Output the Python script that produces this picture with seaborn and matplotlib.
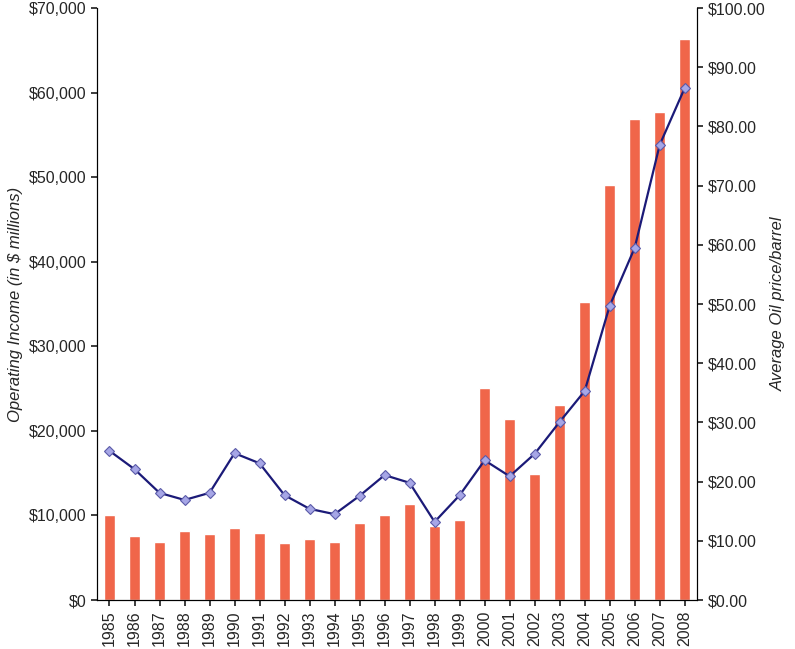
import matplotlib.pyplot as plt
import matplotlib.ticker as mticker
import numpy as np
import pandas as pd
import seaborn as sns

years = list(range(1985, 2009))
operating_income = [10000, 7600, 6900, 8200, 7800, 8500, 7900, 6700, 7200, 6900,
                    9100, 10000, 11400, 8700, 9500, 25100, 21400, 14900, 23100, 35200,
                    49100, 56900, 57700, 66300]
oil_price = [25.2, 22.1, 18.1, 16.9, 18.1, 24.8, 23.1, 17.7, 15.4, 14.5,
             17.6, 21.1, 19.8, 13.2, 17.7, 23.6, 20.9, 24.7, 30.1, 35.3,
             49.7, 59.5, 76.9, 86.5]

df = pd.DataFrame({"year": [str(y) for y in years],
                   "income": operating_income, "oil": oil_price})

sns.set_theme(style="white")
plt.rcParams['font.family'] = ['Liberation Sans', 'DejaVu Sans']

fig = plt.figure(figsize=(7.95, 6.49), dpi=100)
ax = fig.add_axes([0.122, 0.0755, 0.755, 0.912])

sns.barplot(data=df, x="year", y="income", color="#F0664A", saturation=1,
            width=0.42, ax=ax)
ax.set_ylim(0, 70000)
ax.set_yticks(np.arange(0, 70001, 10000))
ax.yaxis.set_major_formatter(mticker.FuncFormatter(lambda v, p: f"${v:,.0f}"))
ax.set_xlabel("")
ax.set_ylabel("Operating Income (in $ millions)", fontstyle="italic", fontsize=12)
ax.tick_params(axis="x", rotation=90, labelsize=11.5, length=4, bottom=True)
ax.tick_params(axis="y", labelsize=11.5, length=4, left=True)
ax.set_xlim(-0.5, len(years) - 0.5)

ax2 = ax.twinx()
ax2.plot(np.arange(len(years)), df["oil"], color="#1B1A78", linewidth=1.6,
         marker="D", markersize=5.5, markerfacecolor="#A6A6E6",
         markeredgecolor="#5A5AA8", markeredgewidth=0.8)
ax2.set_ylim(0, 100)
ax2.set_yticks(np.arange(0, 101, 10))
ax2.yaxis.set_major_formatter(mticker.FuncFormatter(lambda v, p: f"${v:.2f}"))
ax2.set_ylabel("Average Oil price/barrel", fontstyle="italic", fontsize=12)
ax2.tick_params(axis="y", labelsize=11.5, length=4, right=True)
ax2.grid(False)
ax.grid(False)

for a in (ax, ax2):
    for s in a.spines.values():
        s.set_color("black")
        s.set_linewidth(0.8)
ax.spines["top"].set_visible(False)
ax2.spines["top"].set_visible(False)

plt.savefig("out.png", dpi=100)
plt.close()
